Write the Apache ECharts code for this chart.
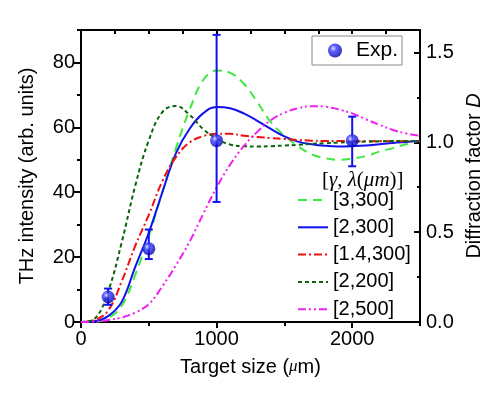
<!DOCTYPE html>
<html><head><meta charset="utf-8">
<script src="https://cdn.jsdelivr.net/npm/echarts@6/dist/echarts.min.js"></script>
<style>html,body{margin:0;padding:0;background:#fff}#c{width:500px;height:408px}</style>
</head><body><div id="c"></div>
<script>
const sizes = [0,100,200,300,400,500,600,700,800,900,1000,1100,1200,1300,1400,1500,1600,1700,1800,1900,2000,2100,2200,2300,2400,2500];
const g3_300  = [0,0.1,1.2,5,14.5,26.5,40,53.5,65.3,74.5,77.5,76.8,73.5,67.8,61.6,57.5,54.2,51.7,50.5,50,50.4,51.1,52.5,53.6,54.8,55.9];
const g2_300  = [0,0.2,1.8,6.2,17,27.5,40,52,59.5,64.3,66.3,65.9,64.3,62,59.5,57.2,55.6,54.8,54.3,54.1,54.2,54.4,54.8,55.2,55.5,55.8];
const g14_300 = [0,0.6,3.5,12.5,23.5,33,43.4,50.8,55.3,57.3,58,58,57.4,57,56.7,56.4,56.1,55.9,55.8,55.8,55.7,55.7,55.7,55.7,55.7,55.7];
const g2_200  = [0,1,9.4,24.5,42,56,64.7,66.6,63.9,59.5,56.5,54.7,54.2,54.1,54.2,54.4,54.6,54.9,55.1,55.3,55.5,55.6,55.7,55.8,55.8,55.8];
const g2_500  = [0,0.1,0.6,1.4,2.9,5.5,11,17.5,24.7,33.2,41.5,48.5,54.2,58.6,62.2,64.5,65.9,66.5,66.4,65.5,64.3,62.5,60.8,59.2,58.1,57.4];
const expX  = [200,500,1000,2000];
const expY  = [7.7,22.6,55.9,55.9];
const expLo = [5.3,19.4,37,48];
const expHi = [10.3,28.5,88.5,63.3];
const seriesNames = ['[3,300]','[2,300]','[1.4,300]','[2,200]','[2,500]'];
const xTicksMajor = 1000, yTicksMajor = 20, dTicksMajor = 0.5;

const FONT = "'Liberation Sans', Arial, sans-serif";
const zip = a => sizes.map((x,i)=>[x,a[i]]);
const lineSeries = (name, data, color, dash, width) => ({
  name, type:'line', data: zip(data), smooth:0.4, symbol:'none', showSymbol:false,
  xAxisIndex:0, yAxisIndex:0,
  lineStyle:{color, width:width||2, type:dash}, itemStyle:{color}, z:2
});
const ballColor = {type:'radial', x:0.38, y:0.35, r:0.65, colorStops:[
  {offset:0,color:'#d8d8ff'},{offset:0.35,color:'#3a3aff'},{offset:1,color:'#0000a8'}]};
const axisLineStyle = {color:'#000', width:2};

const chart = echarts.init(document.getElementById('c'));
chart.setOption({
  animation:false,
  backgroundColor:'#fff',
  textStyle:{fontFamily:FONT},
  grid:{left:81,right:80,top:30,bottom:86},
  xAxis:[
    {type:'value',min:0,max:2500,interval:xTicksMajor,position:'bottom',
     axisLine:{onZero:false,lineStyle:axisLineStyle},
     axisTick:{length:6,lineStyle:{color:'#000',width:2}},
     axisLabel:{showMaxLabel:false,color:'#000',fontSize:20,margin:7,fontFamily:FONT,formatter:v=>String(v)},
     splitLine:{show:false},
     name:'{a|Target size (}{m|μ}{a|m)}',nameLocation:'middle',nameGap:35,
     nameTextStyle:{rich:{a:{fontSize:20,color:'#000',fontFamily:FONT},m:{fontSize:17,color:'#000',fontStyle:'italic',fontFamily:"'Liberation Serif', serif"}}}},
    {type:'value',min:0,max:2500,interval:500,position:'bottom',
     axisLine:{show:false,onZero:false},axisTick:{length:4,lineStyle:{color:'#000',width:2}},
     axisLabel:{show:false},splitLine:{show:false}},
    {type:'value',min:0,max:2500,interval:250,position:'top',
     axisLine:{onZero:false,lineStyle:axisLineStyle},axisTick:{inside:true,length:4,lineStyle:{color:'#000',width:2}},
     axisLabel:{show:false},splitLine:{show:false}}
  ],
  yAxis:[
    {type:'value',min:0,max:90,interval:yTicksMajor,position:'left',
     axisLine:{onZero:false,lineStyle:axisLineStyle},
     axisTick:{length:7,lineStyle:{color:'#000',width:2}},
     axisLabel:{showMaxLabel:false,color:'#000',fontSize:20,margin:6,fontFamily:FONT},
     splitLine:{show:false},
     name:'THz intensity (arb. units)',nameLocation:'middle',nameGap:44,
     nameTextStyle:{fontSize:20,color:'#000',fontFamily:FONT}},
    {type:'value',min:0,max:90,interval:10,position:'left',
     axisLine:{show:false,onZero:false},axisTick:{length:4,lineStyle:{color:'#000',width:2}},
     axisLabel:{show:false},splitLine:{show:false}},
    {type:'value',min:0,max:1.625,interval:dTicksMajor,position:'right',
     axisLine:{onZero:false,lineStyle:axisLineStyle},
     axisTick:{inside:true,length:6,lineStyle:{color:'#000',width:2}},
     axisLabel:{showMaxLabel:false,color:'#000',fontSize:20,margin:6,fontFamily:FONT,formatter:v=>v.toFixed(1)},
     splitLine:{show:false},
     name:'{a|Diffraction factor }{d|D}',nameLocation:'middle',nameGap:34,
     nameTextStyle:{rich:{a:{fontSize:20,color:'#000',fontFamily:FONT},d:{fontSize:20,color:'#000',fontStyle:'italic',fontFamily:FONT}}}},
    {type:'value',min:0,max:1.625,interval:0.25,position:'right',
     axisLine:{show:false,onZero:false},axisTick:{inside:true,length:3,lineStyle:{color:'#000',width:2}},
     axisLabel:{show:false},splitLine:{show:false}}
  ],
  legend:[
    {data:['Exp.'],left:312,top:36,orient:'vertical',
     borderColor:'#888',borderWidth:1,padding:[4,4,4,16],
     itemWidth:14,itemHeight:14,
     textStyle:{fontSize:21,color:'#000',fontFamily:FONT,padding:[0,0,0,9]}},
    {data:seriesNames,left:297,top:190,orient:'vertical',
     itemWidth:30,itemHeight:14,itemGap:7.3,padding:0,
     itemStyle:{opacity:0},
     textStyle:{fontSize:20,color:'#000',fontFamily:FONT}}
  ],
  graphic:[
    {type:'text',left:322,top:170,style:{
      text:'[{i|γ}, {i|λ}({i|μm})]',
      font:"21px 'Liberation Serif', serif",fill:'#000',
      rich:{i:{fontStyle:'italic',fontSize:21,fontFamily:"'Liberation Serif', serif",fill:'#000'}}}}
  ],
  series:[
    lineSeries(seriesNames[0], g3_300, '#3ee83e', [9,6]),
    lineSeries(seriesNames[1], g2_300, '#1010f0', 'solid'),
    lineSeries(seriesNames[2], g14_300, '#f01010', [8,3,2,3]),
    lineSeries(seriesNames[3], g2_200, '#0a640a', [4,3]),
    lineSeries(seriesNames[4], g2_500, '#f020f0', [8,3,2,3,2,3]),
    {type:'custom',name:'errbars',xAxisIndex:0,yAxisIndex:0,z:4,
     data:expX.map((x,i)=>[x,expLo[i],expHi[i]]),
     renderItem:(params,api)=>{
       const lo = api.coord([api.value(0),api.value(1)]);
       const hi = api.coord([api.value(0),api.value(2)]);
       const w = 4, st = {stroke:'#1010f0',lineWidth:2};
       return {type:'group',children:[
         {type:'line',shape:{x1:lo[0],y1:lo[1],x2:hi[0],y2:hi[1]},style:st},
         {type:'line',shape:{x1:lo[0]-w,y1:lo[1],x2:lo[0]+w,y2:lo[1]},style:st},
         {type:'line',shape:{x1:hi[0]-w,y1:hi[1],x2:hi[0]+w,y2:hi[1]},style:st}]};
     }},
    {type:'scatter',name:'Exp.',xAxisIndex:0,yAxisIndex:0,z:5,
     data:expX.map((x,i)=>[x,expY[i]]),symbol:'circle',symbolSize:13,
     itemStyle:{color:ballColor}}
  ]
});
</script></body></html>
